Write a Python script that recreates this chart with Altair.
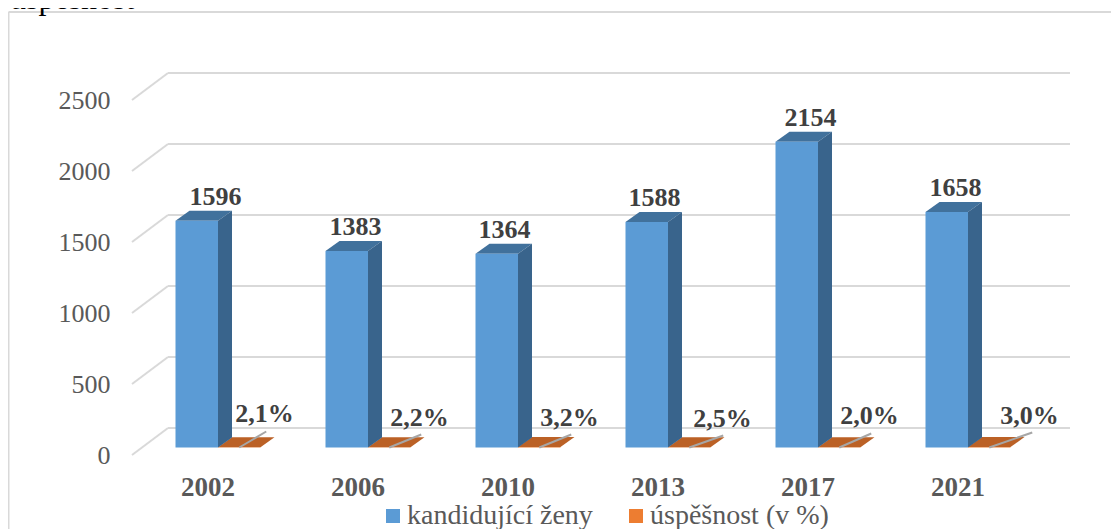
import altair as alt
import pandas as pd

years = ["2002", "2006", "2010", "2013", "2017", "2021"]
candidates = [1596, 1383, 1364, 1588, 2154, 1658]
success = [2.1, 2.2, 3.2, 2.5, 2.0, 3.0]
success_labels = ["2,1%", "2,2%", "3,2%", "2,5%", "2,0%", "3,0%"]
series = ["kandidující ženy", "úspěšnost (v %)"]
y_ticks = [0, 500, 1000, 1500, 2000, 2500]

# pixel geometry helpers
PX_X = 150.0          # px per category
PX_Y = 0.142          # px per value unit
W, H = 938, 382
x_of = lambda px: px / PX_X
y_of = lambda px: px / PX_Y
BAR_L = x_of(43.5)
BAR_W = x_of(42.5)
DX = x_of(14)
DY = y_of(10)
BASE = y_of(7.5)
WALL_X = x_of(36)
WALL_Y = y_of(27)

cand_dx = [40, 30, 29, 29, 35, 30]
pct_dx = [89, 94, 94, 97, 94, 104]
pct_dy = [26, 22, 22, 21, 24, 24]
leader_dx = [27, 32, 32, 34, 32, 43]
leader_dy = [16, 13, 13, 12, 14, 15]

xs = alt.Scale(domain=[0, W / PX_X], nice=False, zero=False)
ys = alt.Scale(domain=[0, H / PX_Y], nice=False, zero=False)
X = lambda f, **k: alt.X(f, type="quantitative", scale=xs, **k)
Y = lambda f, **k: alt.Y(f, type="quantitative", scale=ys, **k)

fronts, tops, sides, cand_lab, pct_lab, leaders = [], [], [], [], [], []
for i, (yr, c, s) in enumerate(zip(years, candidates, success)):
    x0 = i + BAR_L
    x1 = x0 + BAR_W
    fronts.append(dict(s=series[0], x=x0, x2=x1, y=BASE, y2=BASE + c))
    fronts.append(dict(s=series[1], x=x1, x2=x1 + BAR_W, y=BASE, y2=BASE + s))
    for key, kind, xa, w, top in ((f"a{i}", "blue", x0, BAR_W, BASE + c), (f"b{i}", "orange", x1, BAR_W, BASE + s)):
        tops.append(dict(k=key, kind=kind, x=xa, x2=xa + w, y=top))
        tops.append(dict(k=key, kind=kind, x=xa + DX, x2=xa + w + DX, y=top + DY))
    sides.append(dict(k=f"a{i}", x=x1, y=BASE + c, y2=BASE))
    sides.append(dict(k=f"a{i}", x=x1 + DX, y=BASE + c + DY, y2=BASE + DY))
    cand_lab.append(dict(x=x0 + x_of(cand_dx[i]), y=BASE + c + DY + y_of(6), t=str(c)))
    pct_lab.append(dict(x=x0 + x_of(pct_dx[i]), y=BASE + y_of(pct_dy[i]), t=success_labels[i]))
    lx = x1 + BAR_W / 2
    leaders.append(dict(x=lx, x2=lx + x_of(leader_dx[i]), y=BASE, y2=BASE + y_of(leader_dy[i])))

grid = pd.DataFrame([dict(y=t + WALL_Y) for t in y_ticks])
diag = pd.DataFrame([r for t in y_ticks for r in (dict(k=t, x=0, y=t), dict(k=t, x=WALL_X, y=t + WALL_Y))])

GRID_C = "#D9D9D9"
grid_rule = alt.Chart(grid).mark_rule(color=GRID_C, strokeWidth=2).encode(
    x=alt.value(WALL_X * PX_X), x2=alt.value(W), y=Y("y", axis=None))
grid_diag = alt.Chart(diag).mark_line(color=GRID_C, strokeWidth=2).encode(
    x=X("x", axis=None), y=Y("y", axis=alt.Axis(
        values=y_ticks, format="d", grid=False, domain=False, ticks=False, title=None,
        labelFont="Liberation Serif", labelFontSize=26, labelColor="#595959", labelPadding=22)),
    detail="k:N")

top_layer = alt.Chart(pd.DataFrame(tops)).mark_area(orient="horizontal").encode(
    x=X("x", axis=None), x2="x2", y=Y("y", axis=None), detail="k:N",
    color=alt.Color("kind:N", legend=None, scale=alt.Scale(domain=["blue", "orange"], range=["#41719C", "#BB6126"])))
side_layer = alt.Chart(pd.DataFrame(sides)).mark_area(orient="vertical", color="#39648C").encode(
    x=X("x", axis=None), y=Y("y", axis=None), y2="y2", detail="k:N")
front_layer = alt.Chart(pd.DataFrame(fronts)).mark_rect().encode(
    x=X("x", axis=alt.Axis(
        values=[i + BAR_L + x_of(32) for i in range(len(years))],
        labelExpr="['2002','2006','2010','2013','2017','2021'][floor(datum.value)]",
        grid=False, domain=False, ticks=False, title=None, labelFont="Liberation Serif",
        labelFontSize=27, labelFontWeight="bold", labelColor="#595959", labelPadding=19)),
    x2="x2", y=Y("y", axis=None), y2="y2",
    color=alt.Color("s:N", scale=alt.Scale(domain=series, range=["#5B9BD5", "#ED7D31"]),
                    legend=alt.Legend(orient="none", legendX=247, legendY=429, direction="horizontal",
                                      title=None, symbolType="square", symbolSize=196, symbolStrokeWidth=0,
                                      labelFont="Liberation Serif", labelFontSize=28, labelColor="#595959",
                                      columnPadding=29, labelOffset=0, labelLimit=300)))
leader_layer = alt.Chart(pd.DataFrame(leaders)).mark_rule(color="#A6A6A6", strokeWidth=2).encode(
    x=X("x", axis=None), x2="x2", y=Y("y", axis=None), y2="y2")
cand_text = alt.Chart(pd.DataFrame(cand_lab)).mark_text(
    font="Liberation Serif", fontSize=26, fontWeight="bold", color="#404040", baseline="alphabetic").encode(
    x=X("x", axis=None), y=Y("y", axis=None), text="t:N")
pct_text = alt.Chart(pd.DataFrame(pct_lab)).mark_text(
    font="Liberation Serif", fontSize=26, fontWeight="bold", color="#404040", baseline="alphabetic").encode(
    x=X("x", axis=None), y=Y("y", axis=None), text="t:N")

frame_df = pd.DataFrame([dict(a=1)])
frame_top = alt.Chart(frame_df).mark_rule(color=GRID_C, strokeWidth=2).encode(
    x=alt.value(-123.5), x2=alt.value(979), y=alt.value(-61))
frame_left = alt.Chart(frame_df).mark_rule(color=GRID_C, strokeWidth=2).encode(
    x=alt.value(-123.5), y=alt.value(-61), y2=alt.value(456))
heading = alt.Chart(pd.DataFrame([dict(t="úspěšnost")])).mark_text(
    font="Liberation Serif", fontSize=32, color="#000000", align="left", baseline="alphabetic").encode(
    x=alt.value(-122), y=alt.value(-64), text="t:N")

chart = alt.layer(frame_top, frame_left, grid_rule, grid_diag, top_layer, side_layer,
                  front_layer, leader_layer, cand_text, pct_text, heading).resolve_scale(color="independent").resolve_axis(x="independent", y="independent").properties(
    width=W, height=H,
    autosize=alt.AutoSizeParams(type="none"),
    padding={"left": 124, "top": 65, "right": 41, "bottom": 74},
).configure_view(stroke=None)

chart.save("out.html", embed_options={"renderer": "svg", "actions": False})
